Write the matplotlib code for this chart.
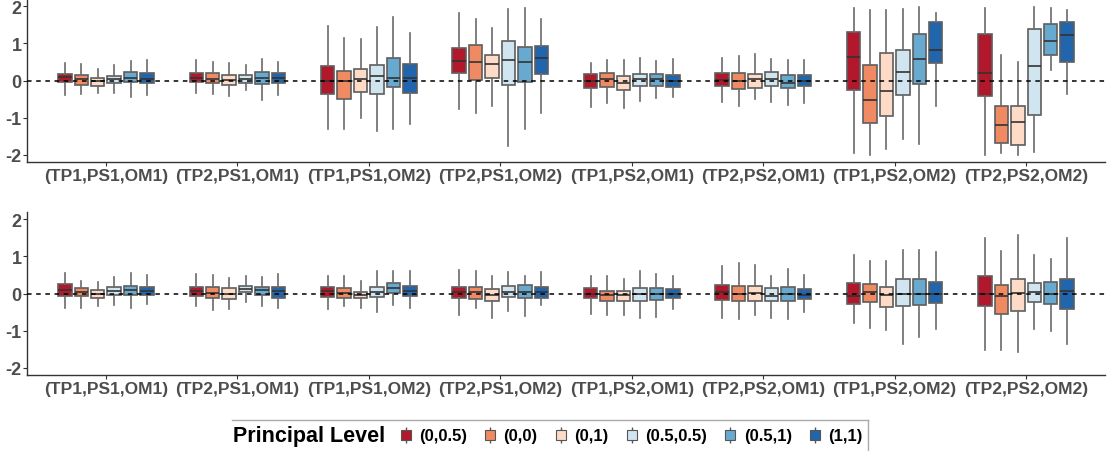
import matplotlib
matplotlib.use("Agg")
import matplotlib.pyplot as plt
from matplotlib.lines import Line2D
from matplotlib.legend_handler import HandlerTuple

groups = ["(TP1,PS1,OM1)", "(TP2,PS1,OM1)", "(TP1,PS1,OM2)", "(TP2,PS1,OM2)",
          "(TP1,PS2,OM1)", "(TP2,PS2,OM1)", "(TP1,PS2,OM2)", "(TP2,PS2,OM2)"]
levels = ["(0,0.5)", "(0,0)", "(0,1)", "(0.5,0.5)", "(0.5,1)", "(1,1)"]
colors = ["#B2182B", "#EF8A62", "#FDDBC7", "#D1E5F0", "#67A9CF", "#2166AC"]

# top panel: rows = groups, cols = levels
top_hi = [
    [0.48, 0.44, 0.32, 0.42, 0.53, 0.55],
    [0.54, 0.51, 0.47, 0.43, 0.59, 0.49],
    [1.46, 1.16, 1.13, 1.45, 1.72, 1.29],
    [1.83, 1.67, 1.41, 1.94, 1.97, 1.67],
    [0.46, 0.54, 0.54, 0.61, 0.53, 0.57],
    [0.61, 0.66, 0.72, 0.59, 0.56, 0.56],
    [1.96, 1.91, 1.90, 1.94, 1.99, 1.82],
    [1.95, 0.70, 0.51, 1.99, 1.96, 1.90],
]
top_q3 = [
    [0.18, 0.15, 0.06, 0.13, 0.23, 0.21],
    [0.21, 0.21, 0.14, 0.15, 0.23, 0.20],
    [0.38, 0.25, 0.31, 0.42, 0.61, 0.45],
    [0.88, 0.97, 0.70, 1.07, 0.91, 0.93],
    [0.18, 0.21, 0.12, 0.17, 0.17, 0.15],
    [0.21, 0.21, 0.18, 0.22, 0.14, 0.16],
    [1.30, 0.43, 0.74, 0.82, 1.26, 1.59],
    [1.26, -0.68, -0.68, 1.40, 1.53, 1.59],
]
top_med = [
    [0.09, 0.05, -0.01, 0.03, 0.06, 0.05],
    [0.07, 0.05, 0.01, 0.05, 0.07, 0.06],
    [0.00, 0.00, 0.03, 0.12, 0.07, 0.06],
    [0.53, 0.51, 0.45, 0.55, 0.50, 0.61],
    [0.00, 0.03, -0.06, 0.03, 0.03, 0.00],
    [0.01, -0.02, 0.05, 0.03, -0.06, 0.00],
    [0.63, -0.52, -0.29, 0.23, 0.57, 0.82],
    [0.21, -1.21, -1.13, 0.39, 1.06, 1.23],
]
top_q1 = [
    [-0.05, -0.11, -0.14, -0.08, -0.05, -0.08],
    [-0.04, -0.06, -0.12, -0.06, -0.10, -0.06],
    [-0.37, -0.50, -0.30, -0.37, -0.17, -0.35],
    [0.21, 0.01, 0.07, -0.12, -0.03, 0.17],
    [-0.19, -0.17, -0.25, -0.14, -0.14, -0.18],
    [-0.15, -0.22, -0.20, -0.16, -0.20, -0.16],
    [-0.26, -1.15, -0.97, -0.40, -0.09, 0.48],
    [-0.41, -1.68, -1.73, -0.94, 0.70, 0.50],
]
top_lo = [
    [-0.38, -0.37, -0.33, -0.33, -0.44, -0.38],
    [-0.33, -0.36, -0.42, -0.26, -0.53, -0.40],
    [-1.32, -1.31, -1.02, -1.35, -1.32, -1.17],
    [-0.78, -0.87, -0.68, -1.77, -1.31, -0.89],
    [-0.72, -0.60, -0.74, -0.56, -0.47, -0.44],
    [-0.58, -0.68, -0.50, -0.59, -0.67, -0.60],
    [-1.97, -2.00, -1.86, -1.58, -1.71, -0.69],
    [-2.01, -1.95, -2.01, -1.92, 0.27, -0.36],
]

# bottom panel
bot_hi = [
    [0.55, 0.34, 0.32, 0.45, 0.54, 0.51],
    [0.53, 0.50, 0.42, 0.46, 0.45, 0.53],
    [0.46, 0.46, 0.35, 0.62, 0.61, 0.61],
    [0.63, 0.62, 0.46, 0.58, 0.46, 0.58],
    [0.47, 0.47, 0.40, 0.61, 0.53, 0.46],
    [0.74, 0.82, 0.76, 0.46, 0.66, 0.50],
    [1.03, 0.89, 0.88, 1.17, 1.18, 1.11],
    [1.50, 1.16, 1.58, 1.05, 0.92, 1.51],
]
bot_q3 = [
    [0.25, 0.15, 0.10, 0.17, 0.20, 0.18],
    [0.18, 0.17, 0.14, 0.20, 0.18, 0.18],
    [0.18, 0.14, 0.05, 0.18, 0.29, 0.21],
    [0.18, 0.18, 0.11, 0.19, 0.23, 0.18],
    [0.16, 0.07, 0.08, 0.14, 0.15, 0.11],
    [0.22, 0.20, 0.19, 0.16, 0.18, 0.13],
    [0.27, 0.25, 0.18, 0.39, 0.39, 0.31],
    [0.46, 0.23, 0.38, 0.29, 0.30, 0.39],
]
bot_med = [
    [0.09, 0.05, -0.01, 0.07, 0.09, 0.06],
    [0.06, 0.01, -0.02, 0.11, 0.09, 0.07],
    [0.06, 0.02, -0.04, 0.04, 0.15, 0.08],
    [0.04, 0.03, -0.05, 0.04, 0.05, 0.03],
    [0.00, -0.04, -0.03, 0.00, 0.00, 0.00],
    [0.04, 0.00, 0.02, -0.06, 0.00, -0.03],
    [-0.06, 0.03, -0.03, 0.00, 0.00, 0.00],
    [0.00, -0.07, 0.02, 0.05, -0.01, 0.08],
]
bot_q1 = [
    [-0.06, -0.08, -0.11, -0.03, -0.04, -0.04],
    [-0.06, -0.11, -0.15, 0.03, -0.04, -0.11],
    [-0.10, -0.11, -0.12, -0.09, 0.01, -0.06],
    [-0.13, -0.14, -0.21, -0.10, -0.11, -0.11],
    [-0.13, -0.20, -0.19, -0.20, -0.18, -0.13],
    [-0.17, -0.20, -0.20, -0.20, -0.20, -0.15],
    [-0.28, -0.23, -0.37, -0.34, -0.31, -0.26],
    [-0.35, -0.55, -0.46, -0.22, -0.29, -0.41],
]
bot_lo = [
    [-0.39, -0.39, -0.35, -0.30, -0.39, -0.29],
    [-0.34, -0.45, -0.43, -0.24, -0.33, -0.38],
    [-0.43, -0.34, -0.38, -0.50, -0.31, -0.39],
    [-0.59, -0.38, -0.66, -0.46, -0.61, -0.32],
    [-0.54, -0.59, -0.57, -0.66, -0.63, -0.43],
    [-0.65, -0.69, -0.57, -0.66, -0.68, -0.51],
    [-0.79, -0.92, -0.99, -1.36, -1.17, -0.96],
    [-1.52, -1.52, -1.57, -0.96, -1.01, -1.36],
]

plt.rcParams["font.family"] = ["Liberation Sans", "DejaVu Sans"]
W, H = 1107, 452
fig = plt.figure(figsize=(W / 100, H / 100), dpi=100)

GRAY = "#4D4D4D"
SLOT = 0.125


def draw_panel(ax, lo, q1, med, q3, hi):
    for g in range(len(groups)):
        for k in range(len(levels)):
            st = [dict(whislo=lo[g][k], q1=q1[g][k], med=med[g][k],
                       q3=q3[g][k], whishi=hi[g][k], fliers=[])]
            pos = g + 1 + (k - 2.5) * SLOT
            ax.bxp(st, positions=[pos], widths=0.102, patch_artist=True,
                   showcaps=False, showfliers=False, manage_ticks=False,
                   boxprops=dict(facecolor=colors[k], edgecolor="#5E5E5E", linewidth=1.2),
                   medianprops=dict(color="#333333", linewidth=1.2),
                   whiskerprops=dict(color="#6A6A6A", linewidth=1.2))
    ax.axhline(0, color="black", linestyle=(0, (3, 3)), linewidth=1.1, zorder=5)
    ax.set_xlim(0.4, 8.6)
    ax.set_ylim(-2.2, 2.2)
    ax.set_yticks([-2, -1, 0, 1, 2])
    ax.set_yticklabels(["-2", "-1", "0", "1", "2"])
    ax.set_xticks(range(1, 9))
    ax.set_xticklabels(groups)
    for s in ("top", "right"):
        ax.spines[s].set_visible(False)
    for s in ("left", "bottom"):
        ax.spines[s].set_color("#333333")
        ax.spines[s].set_linewidth(1.0)
    ax.tick_params(axis="both", length=3, width=0.8, color="#333333", pad=1.0,
                   labelcolor=GRAY)
    ax.tick_params(axis="x", labelsize=12.5)
    ax.tick_params(axis="y", labelsize=13)
    for t in ax.get_xticklabels() + ax.get_yticklabels():
        t.set_fontweight("bold")


ax1 = fig.add_axes([27 / W, 1 - 163 / H, 1078 / W, 163 / H])
draw_panel(ax1, top_lo, top_q1, top_med, top_q3, top_hi)
ax2 = fig.add_axes([27 / W, 1 - 376 / H, 1078 / W, 163 / H])
draw_panel(ax2, bot_lo, bot_q1, bot_med, bot_q3, bot_hi)

# legend
yl = 1 - 437 / H
fig.text(233 / W, yl, "Principal Level", fontsize=15.5, fontweight="bold",
         color="black", ha="left", va="center")
handles = []
for c in colors:
    stem = Line2D([], [], color="#555555", marker="|", markersize=12,
                  linestyle="None", markeredgewidth=1.0)
    box = Line2D([], [], marker="s", markersize=6.5, markerfacecolor=c,
                 markeredgecolor="#555555", markeredgewidth=0.8, linestyle="None")
    handles.append((stem, box))
fig.legend(handles, levels, handler_map={tuple: HandlerTuple(ndivide=1)},
           loc="center left", bbox_to_anchor=(383 / W, yl), ncol=6,
           frameon=False, handlelength=0.9, handletextpad=0.35, columnspacing=0.95,
           prop=dict(family=["Liberation Sans Narrow", "Liberation Sans"],
                     weight="bold", size=12))
fig.add_artist(Line2D([232 / W, 868 / W], [1 - 421 / H, 1 - 421 / H],
                      transform=fig.transFigure, color="#AAAAAA", linewidth=1.0))
fig.add_artist(Line2D([868 / W, 868 / W], [1 - 421 / H, 0],
                      transform=fig.transFigure, color="#AAAAAA", linewidth=1.0))

fig.savefig("out.png", dpi=100)
